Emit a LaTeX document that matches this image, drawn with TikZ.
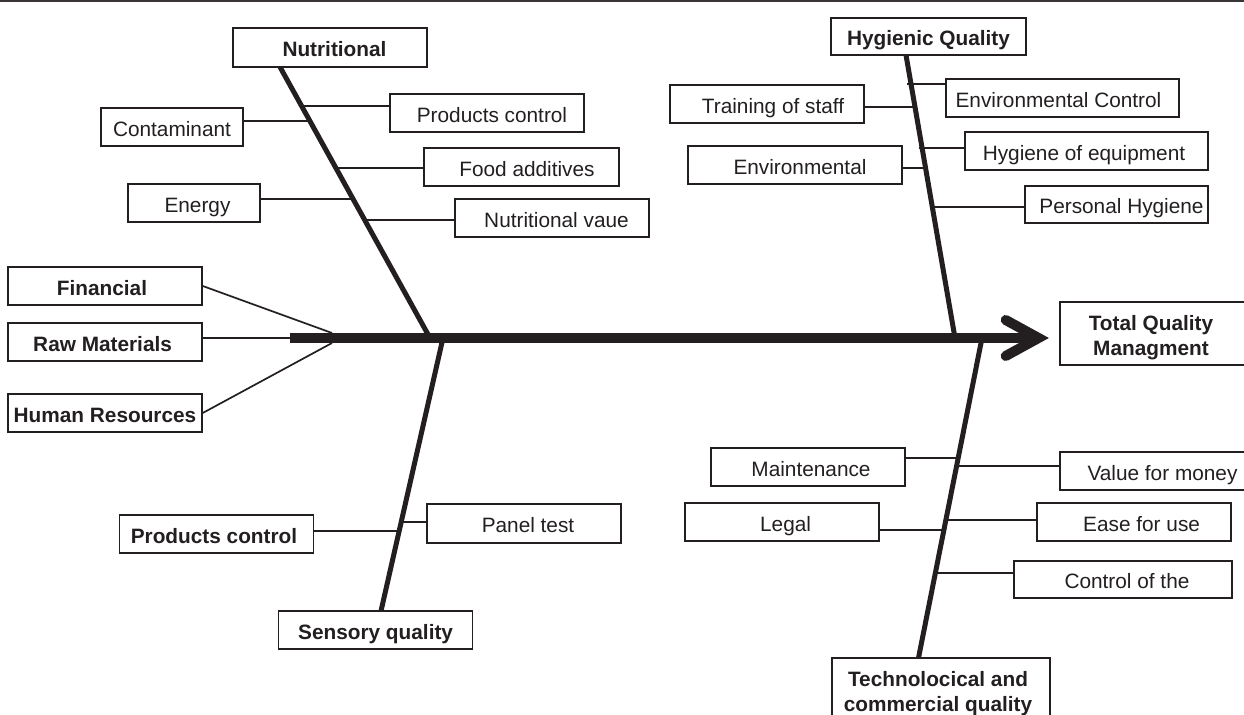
\documentclass[tikz,border=0pt]{standalone}
\usepackage{fontspec}
\setmainfont{Liberation Sans}
\usetikzlibrary{calc}
\definecolor{ink}{HTML}{231F20}
\begin{document}
\begin{tikzpicture}[x=0.5pt,y=-0.5pt,
  box/.style={draw=ink, line width=0.75pt, inner sep=0pt, text=ink,
    font=\fontsize{10.4}{12.5}\selectfont, text height=11pt, text depth=1.5pt},
  bbox/.style={box, font=\fontsize{10.4}{12.5}\selectfont\bfseries},
  frame/.style={draw=ink, line width=0.75pt, inner sep=0pt},
  mtext/.style={inner sep=0pt, text=ink, align=center, font=\fontsize{10.4}{12.5}\selectfont\bfseries},
  bone/.style={draw=ink, line width=2.5pt},
  twig/.style={draw=ink, line width=1.15pt},
  feed/.style={draw=ink, line width=0.85pt},
  spine/.style={draw=ink, line width=5.35pt},
  chevron/.style={draw=ink, line width=5pt, line cap=round, line join=miter}
]
\useasboundingbox (0,0) rectangle (1244,715);
\clip (0,0) rectangle (1244,715);

% top rule
\coordinate (ruleL) at (0,1);
\coordinate (ruleR) at (1244,1);
\draw[draw=ink!90, line width=1pt] (ruleL) -- (ruleR);

% ---- boxes ----
\node[bbox, minimum width=97pt, minimum height=19.5pt] (nut) at (330,47.5) {\hspace*{4.5pt}Nutritional};
\node[box, minimum width=97pt, minimum height=19pt] (prodc) at (487,113) {\hspace*{5pt}Products control};
\node[box, minimum width=71pt, minimum height=19pt] (cont) at (172,127) {Contaminant};
\node[box, minimum width=97.5pt, minimum height=19pt] (food) at (521.5,167) {\hspace*{5.5pt}Food additives};
\node[box, minimum width=66pt, minimum height=19pt] (energy) at (194,203) {\hspace*{3.5pt}Energy};
\node[box, minimum width=97pt, minimum height=19pt] (nutv) at (552,218) {\hspace*{4.5pt}Nutritional vaue};

\node[bbox, minimum width=97.5pt, minimum height=18.5pt] (hyg) at (928.5,36.5) {Hygienic Quality};
\node[box, minimum width=116.5pt, minimum height=19pt] (envc) at (1062.5,98) {Environmental Control\hspace*{4pt}};
\node[box, minimum width=97pt, minimum height=19pt] (train) at (767,104) {\hspace*{6pt}Training of staff};
\node[box, minimum width=121.5pt, minimum height=19pt] (hygeq) at (1086.5,151) {Hygiene of equipment\hspace*{2.5pt}};
\node[box, minimum width=107pt, minimum height=19pt] (env) at (795,165) {\hspace*{5pt}Environmental};
\node[box, minimum width=91.5pt, minimum height=18.5pt] (pers) at (1116.5,204.5) {\hspace*{5pt}Personal Hygiene};

\node[bbox, minimum width=97pt, minimum height=19pt] (fin) at (105,286) {Financial\hspace*{3pt}};
\node[bbox, minimum width=97pt, minimum height=19pt] (raw) at (105,342) {Raw Materials\hspace*{2.4pt}};
\node[bbox, minimum width=97pt, minimum height=19pt] (hr) at (105,413) {Human Resources};

\node[frame, minimum width=93pt, minimum height=31.5pt] (tqm) at (1153,333.5) {};
\node[mtext] (tqmtext) at (1151,337.6) {Total Quality\\Managment};

\node[bbox, minimum width=97pt, minimum height=19pt] (pcb) at (216.5,534) {Products control\hspace*{2.5pt}};
\node[box, minimum width=97pt, minimum height=19.5pt] (panel) at (524,523.5) {\hspace*{4pt}Panel test};
\node[bbox, minimum width=97pt, minimum height=19pt] (sens) at (375.6,630) {Sensory quality};

\node[box, minimum width=97pt, minimum height=19pt] (maint) at (808,467) {\hspace*{3pt}Maintenance};
\node[box, minimum width=102.5pt, minimum height=19pt] (vfm) at (1162.5,471) {Value for money};
\node[box, minimum width=97pt, minimum height=19pt] (legal) at (782,522) {\hspace*{3.6pt}Legal};
\node[box, minimum width=97pt, minimum height=19pt] (ease) at (1134,522) {\hspace*{7.6pt}Ease for use};
\node[box, minimum width=109pt, minimum height=18.5pt] (ctrl) at (1123,579.5) {\hspace*{4pt}Control of the};

\node[frame, minimum width=109pt, minimum height=36pt] (tech) at (941,694) {};
\node[mtext] (techtext) at (938,693.6) {Technolocical and\\commercial quality};

% ---- spine ----
\coordinate (sp0) at (290,338);
\coordinate (sp1) at (1038.5,338);
\coordinate (tipA) at (1005.7,320);
\coordinate (tipB) at (1005.7,356);
\draw[spine] (sp0) -- (sp1);
\draw[chevron] (tipA) -- (sp1) -- (tipB);

% ---- feeding lines on the tail ----
\coordinate (fjA) at (332,333);
\coordinate (fjB) at (332,343);
\draw[feed] (fin.east) -- (fjA);
\draw[feed] (raw.east |- sp0) -- (sp0);
\draw[feed] (hr.east) -- (fjB);

% ---- bones ----
\coordinate (nT) at (280,67);   \coordinate (nB) at (430,338);
\coordinate (hT) at (906,55);   \coordinate (hB) at (955,338);
\coordinate (sT) at (443,338);  \coordinate (sB) at (381,611);
\coordinate (tT) at (982,338);  \coordinate (tB) at (918.5,658);
\draw[bone] (nT) -- (nB);
\draw[bone] (hT) -- (hB);
\draw[bone] (sT) -- (sB);
\draw[bone] (tT) -- (tB);

% ---- branches: nutritional ----
\coordinate (n1) at ($(nT)!0.144!(nB)$);
\coordinate (n2) at ($(nT)!0.199!(nB)$);
\coordinate (n3) at ($(nT)!0.373!(nB)$);
\coordinate (n4) at ($(nT)!0.487!(nB)$);
\coordinate (n5) at ($(nT)!0.565!(nB)$);
\draw[twig] (n1) -- (n1 -| prodc.west);
\draw[twig] (n2) -- (n2 -| cont.east);
\draw[twig] (n3) -- (n3 -| food.west);
\draw[twig] (n4) -- (n4 -| energy.east);
\draw[twig] (n5) -- (n5 -| nutv.west);

% ---- branches: hygienic ----
\coordinate (h1) at ($(hT)!0.102!(hB)+(-4,0)$);
\coordinate (h2) at ($(hT)!0.184!(hB)$);
\coordinate (h3) at ($(hT)!0.329!(hB)+(-3,0)$);
\coordinate (h4) at ($(hT)!0.399!(hB)$);
\coordinate (h5) at ($(hT)!0.537!(hB)$);
\draw[twig] (h1) -- (h1 -| envc.west);
\draw[twig] (h2) -- (h2 -| train.east);
\draw[twig] (h3) -- (h3 -| hygeq.west);
\draw[twig] (h4) -- (h4 -| env.east);
\draw[twig] (h5) -- (h5 -| pers.west);

% ---- branches: sensory ----
\coordinate (s1) at ($(sT)!0.674!(sB)$);
\coordinate (s2) at ($(sT)!0.707!(sB)$);
\draw[twig] (s1) -- (s1 -| panel.west);
\draw[twig] (s2) -- (s2 -| pcb.east);

% ---- branches: technological ----
\coordinate (t1) at ($(tT)!0.375!(tB)$);
\coordinate (t2) at ($(tT)!0.4!(tB)$);
\coordinate (t3) at ($(tT)!0.569!(tB)$);
\coordinate (t4) at ($(tT)!0.6!(tB)$);
\coordinate (t5) at ($(tT)!0.734!(tB)$);
\draw[twig] (t1) -- (t1 -| maint.east);
\draw[twig] (t2) -- (t2 -| vfm.west);
\draw[twig] (t3) -- (t3 -| ease.west);
\draw[twig] (t4) -- (t4 -| legal.east);
\draw[twig] (t5) -- (t5 -| ctrl.west);
\end{tikzpicture}
\end{document}
